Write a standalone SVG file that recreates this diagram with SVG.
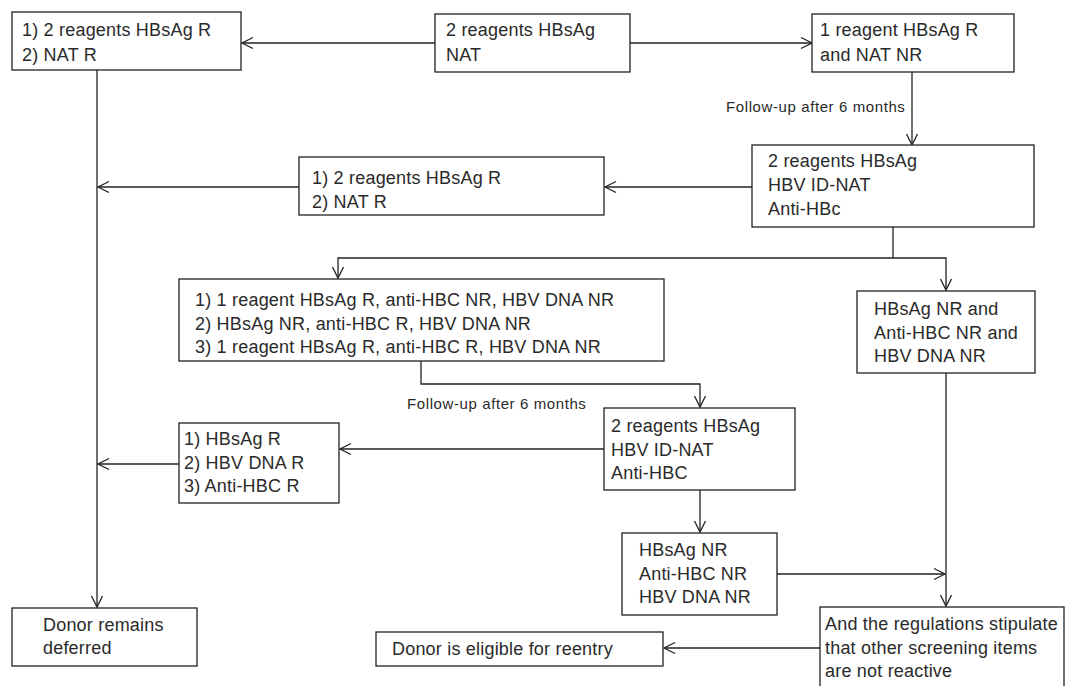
<svg xmlns="http://www.w3.org/2000/svg" width="1068" height="686" viewBox="0 0 1068 686">
<style>
.box{fill:#fff;stroke:#222;stroke-width:1.3}
.t{font-family:"Liberation Sans",Arial,sans-serif;font-size:18px;letter-spacing:0.2px;fill:#2a2a2a}
.lb{font-family:"Liberation Sans",Arial,sans-serif;font-size:15px;letter-spacing:0.6px;fill:#2a2a2a}
.c{fill:none;stroke:#222;stroke-width:1.3}
.a{marker-end:url(#arr)}
</style>
<defs>
<marker id="arr" markerUnits="userSpaceOnUse" markerWidth="14" markerHeight="14" viewBox="0 0 14 14" refX="12" refY="7" orient="auto">
<path d="M1,1.5 L12,7 L1,12.5" fill="none" stroke="#222" stroke-width="1.3"/>
</marker>
</defs>
<rect width="1068" height="686" fill="#fff"/>
<g id="connectors">
<line class="c a" x1="435" y1="43" x2="242" y2="43"/>
<line class="c a" x1="630" y1="43" x2="812" y2="43"/>
<line class="c a" x1="97" y1="70" x2="97" y2="607"/>
<line class="c a" x1="912" y1="72" x2="912" y2="145"/>
<line class="c a" x1="752" y1="187" x2="605" y2="187"/>
<line class="c a" x1="299" y1="187" x2="98" y2="187"/>
<polyline class="c" points="893,227 893,258"/>
<polyline class="c a" points="893,258 338,258 338,278"/>
<polyline class="c a" points="893,258 946,258 946,290"/>
<polyline class="c a" points="421,361 421,384 700,384 700,407"/>
<line class="c a" x1="604" y1="449" x2="340" y2="449"/>
<line class="c a" x1="179" y1="464" x2="98" y2="464"/>
<line class="c a" x1="700" y1="490" x2="700" y2="532"/>
<line class="c a" x1="946" y1="373" x2="946" y2="606"/>
<line class="c a" x1="777" y1="574" x2="945" y2="574"/>
<line class="c a" x1="820" y1="648" x2="664" y2="648"/>
<text class="lb" x="726" y="112">Follow-up after 6 months</text>
<text class="lb" x="407" y="409">Follow-up after 6 months</text>
</g>
<g id="nodeA">
<rect class="box" x="12" y="12" width="229" height="58"/>
<text class="t" x="22" y="36">1) 2 reagents HBsAg R</text>
<text class="t" x="22" y="61">2) NAT R</text>
</g>
<g id="nodeB">
<rect class="box" x="435" y="14" width="195" height="58"/>
<text class="t" x="446" y="36">2 reagents HBsAg</text>
<text class="t" x="446" y="61">NAT</text>
</g>
<g id="nodeC">
<rect class="box" x="812" y="14" width="202" height="58"/>
<text class="t" x="820" y="36">1 reagent  HBsAg R</text>
<text class="t" x="820" y="61">and NAT NR</text>
</g>
<g id="nodeD">
<rect class="box" x="752" y="145" width="282" height="82"/>
<text class="t" x="768" y="167">2  reagents HBsAg</text>
<text class="t" x="768" y="191">HBV ID-NAT</text>
<text class="t" x="768" y="215">Anti-HBc</text>
</g>
<g id="nodeA2">
<rect class="box" x="299" y="157" width="305" height="58"/>
<text class="t" x="312" y="184">1) 2 reagents HBsAg R</text>
<text class="t" x="312" y="208">2) NAT R</text>
</g>
<g id="nodeE">
<rect class="box" x="179" y="279" width="485" height="82"/>
<text class="t" x="195" y="306">1) 1 reagent HBsAg R, anti-HBC NR, HBV DNA NR</text>
<text class="t" x="195" y="330">2) HBsAg NR, anti-HBC R, HBV DNA NR</text>
<text class="t" x="195" y="353">3) 1 reagent HBsAg R, anti-HBC R, HBV DNA NR</text>
</g>
<g id="nodeG">
<rect class="box" x="857" y="291" width="178" height="82"/>
<text class="t" x="874" y="315">HBsAg NR and</text>
<text class="t" x="874" y="339">Anti-HBC NR and</text>
<text class="t" x="874" y="362">HBV DNA NR</text>
</g>
<g id="nodeF">
<rect class="box" x="604" y="408" width="191" height="82"/>
<text class="t" x="611" y="432">2 reagents HBsAg</text>
<text class="t" x="611" y="456">HBV ID-NAT</text>
<text class="t" x="611" y="479">Anti-HBC</text>
</g>
<g id="nodeK">
<rect class="box" x="179" y="423" width="160" height="80"/>
<text class="t" x="184" y="445">1) HBsAg R</text>
<text class="t" x="184" y="469">2) HBV DNA R</text>
<text class="t" x="184" y="492">3) Anti-HBC R</text>
</g>
<g id="nodeI">
<rect class="box" x="622" y="533" width="155" height="82"/>
<text class="t" x="639" y="556">HBsAg NR</text>
<text class="t" x="639" y="580">Anti-HBC NR</text>
<text class="t" x="639" y="603">HBV DNA NR</text>
</g>
<g id="nodeDeferred">
<rect class="box" x="12" y="608" width="185" height="58"/>
<text class="t" x="43" y="631">Donor remains</text>
<text class="t" x="43" y="654">deferred</text>
</g>
<g id="nodeJ">
<rect class="box" x="376" y="632" width="287" height="34"/>
<text class="t" x="392" y="655">Donor is eligible for reentry</text>
</g>
<g id="nodeH">
<rect class="box" x="820" y="607" width="244" height="100"/>
<text class="t" x="825" y="630">And the regulations stipulate</text>
<text class="t" x="825" y="654">that other screening items</text>
<text class="t" x="825" y="677">are not reactive</text>
</g>
</svg>
